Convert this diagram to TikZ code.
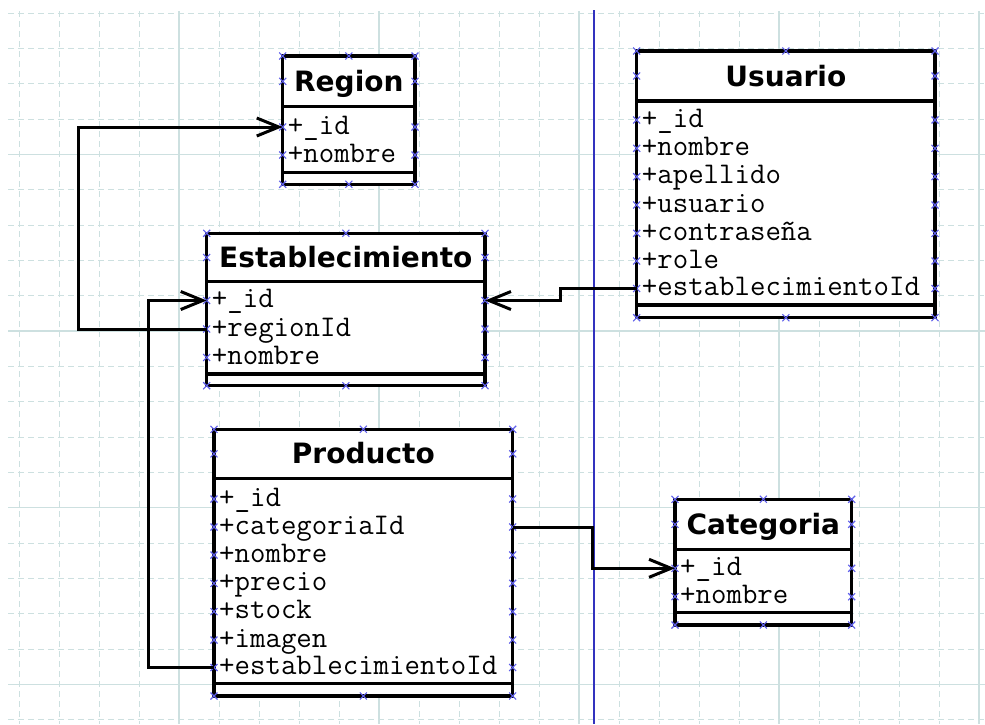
\documentclass[tikz,border=0pt]{standalone}
\usepackage{fontspec}
\newfontfamily\titlefont{DejaVu Sans}
\usetikzlibrary{arrows.meta}
\definecolor{gridc}{RGB}{205,224,224}
\definecolor{xmc}{RGB}{95,95,235}
\definecolor{sepc}{RGB}{50,50,190}
\tikzset{
  gridd/.style={gridc, line width=1pt, dash pattern=on 6pt off 4pt},
  grids/.style={gridc, line width=1.2pt},
  sepst/.style={black, line width=3.5pt},
  boxst/.style={draw=black, fill=white, line width=3.5pt, rectangle, inner sep=0pt, outer sep=0pt, line join=miter},
  titlest/.style={font=\titlefont\bfseries\fontsize{28}{30}\selectfont, anchor=base, inner sep=0pt},
  attrst/.style={font=\ttfamily\fontsize{30}{30}\selectfont, anchor=base west, inner sep=0pt},
  xmarkst/.style={xmc, line width=1.1pt},
  conn/.style={black, line width=3pt, -{Straight Barb[length=22pt,width=18pt]}},
  vline/.style={sepc, line width=1.5pt}
}
\newcommand\xmk[1]{\draw[xmarkst] (#1) ++(-3.5,-3.5) -- ++(7,7) ++(-7,0) -- ++(7,-7);}
% #1 name, #2 L, #3 R, #4 T, #5 header bottom, #6 attr bottom, #7 B, #8 title
\newcommand\umlclass[8]{%
  \node[boxst, minimum width={#3-#2}, minimum height={#7-#4}] (#1) at ({(#2+#3)/2},{(#4+#7)/2}) {};
  \draw[sepst] (#2,#5) -- (#3,#5) (#2,#6) -- (#3,#6);
  \node[titlest] (#1-title) at ({(#2+#3)/2},{(#4+#5)/2+10}) {#8};
  \xmk{#2,#4}\xmk{{(#2+#3)/2},#4}\xmk{#3,#4}
  \xmk{#2,{(#4+#5)/2}}\xmk{#3,{(#4+#5)/2}}
  \xmk{#2,#7}\xmk{{(#2+#3)/2},#7}\xmk{#3,#7}
}
% #1 name, #2 L, #3 R, #4 y, #5 text
\newcommand\umlattr[5]{%
  \node[attrst] (#1) at (#2+5,#4+7) {#5};
  \coordinate (#1-w) at (#2,#4);
  \coordinate (#1-e) at (#3,#4);
  \xmk{#2,#4}\xmk{#3,#4}
}
\begin{document}
\begin{tikzpicture}[x=1pt,y=-1pt]
\useasboundingbox (0,0) rectangle (985,724);
\fill[white] (0,0) rectangle (985,724);
% grid
\foreach \k in {0,...,24} {\draw[gridd] ({19+40*\k},11) -- ({19+40*\k},724);}
\foreach \k in {0,...,20} {\draw[gridd] (8,{13+35.333*\k}) -- (985,{13+35.333*\k});}
\foreach \x in {179,379,579,779,979} {\draw[grids] (\x,11) -- (\x,724);}
\foreach \k in {4,9,14,19} {\draw[grids] (8,{13+35.333*\k}) -- (985,{13+35.333*\k});}
% separator line
\coordinate (vtop) at (594,10);
\coordinate (vbot) at (594,724);
\draw[vline] (vtop) -- (vbot);

% Region
\umlclass{reg}{282.7}{415}{56}{106.7}{172.7}{184.3}{Region}
\umlattr{reg-a1}{282.7}{415}{127}{+\_id}
\umlattr{reg-a2}{282.7}{415}{155}{+nombre}

% Establecimiento
\umlclass{est}{206.7}{485}{233.3}{281.7}{374}{385.7}{Establecimiento}
\umlattr{est-a1}{206.7}{485}{300.5}{+\_id}
\umlattr{est-a2}{206.7}{485}{329}{+regionId}
\umlattr{est-a3}{206.7}{485}{357.5}{+nombre}

% Usuario
\umlclass{usu}{636.7}{935}{51}{101}{305}{317.7}{Usuario}
\umlattr{usu-a1}{636.7}{935}{120}{+\_id}
\umlattr{usu-a2}{636.7}{935}{148.3}{+nombre}
\umlattr{usu-a3}{636.7}{935}{176.7}{+apellido}
\umlattr{usu-a4}{636.7}{935}{205}{+usuario}
\umlattr{usu-a5}{636.7}{935}{233.3}{+contraseña}
\umlattr{usu-a6}{636.7}{935}{261}{+role}
\umlattr{usu-a7}{636.7}{935}{288.5}{+establecimientoId}

% Producto
\umlclass{pro}{214}{512.7}{429.3}{478.3}{683.3}{696}{Producto}
\umlattr{pro-a1}{214}{512.7}{499}{+\_id}
\umlattr{pro-a2}{214}{512.7}{527}{+categoriaId}
\umlattr{pro-a3}{214}{512.7}{555}{+nombre}
\umlattr{pro-a4}{214}{512.7}{583.3}{+precio}
\umlattr{pro-a5}{214}{512.7}{611.7}{+stock}
\umlattr{pro-a6}{214}{512.7}{640}{+imagen}
\umlattr{pro-a7}{214}{512.7}{667.5}{+establecimientoId}

% Categoria
\umlclass{cat}{675}{851.7}{499.3}{549.3}{612.7}{625}{Categoria}
\umlattr{cat-a1}{675}{851.7}{568.3}{+\_id}
\umlattr{cat-a2}{675}{851.7}{596.7}{+nombre}

% connectors
\draw[conn] (est-a2-w) -- ++(-128.7,0) |- (reg-a1-w);
\draw[conn] (pro-a7-w) -- ++(-66,0) |- (est-a1-w);
\draw[conn] (usu-a7-w) -- ++(-76,0) |- (est-a1-e);
\draw[conn] (pro-a2-e) -- ++(80,0) |- (cat-a1-w);
\end{tikzpicture}
\end{document}
